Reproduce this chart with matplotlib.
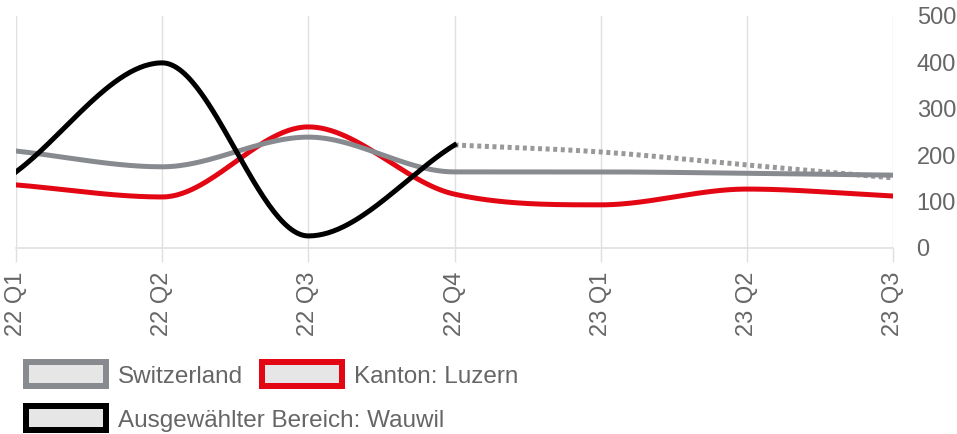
import numpy as np
import matplotlib
matplotlib.use("Agg")
import matplotlib.pyplot as plt
from matplotlib.patches import Rectangle

categories = ["22 Q1", "22 Q2", "22 Q3", "22 Q4", "23 Q1", "23 Q2", "23 Q3"]
switzerland = [209, 175, 239, 164, 164, 161, 157]
luzern = [136, 110, 261, 116, 93, 127, 112]
wauwil = [164, 399, 26, 222]
wauwil_forecast = [222, 207, 179, 151]  # from 22 Q4 onward
y_ticks = [0, 100, 200, 300, 400, 500]

plt.rcParams['font.family'] = ['Liberation Sans', 'DejaVu Sans']
TXT = "#666666"


def monotone(xs, ys, n=60):
    xs = np.asarray(xs, float)
    ys = np.asarray(ys, float)
    k = len(xs)
    d = np.diff(ys) / np.diff(xs)
    m = np.zeros(k)
    m[0] = d[0]
    m[-1] = d[-1]
    for i in range(1, k - 1):
        if d[i - 1] * d[i] <= 0:
            m[i] = 0
        else:
            m[i] = (d[i - 1] + d[i]) / 2
    for i in range(k - 1):
        if d[i] == 0:
            m[i] = m[i + 1] = 0
            continue
        a = m[i] / d[i]
        b = m[i + 1] / d[i]
        s = a * a + b * b
        if s > 9:
            t = 3 / np.sqrt(s)
            m[i] = t * a * d[i]
            m[i + 1] = t * b * d[i]
    X, Y = [], []
    for i in range(k - 1):
        h = xs[i + 1] - xs[i]
        t = np.linspace(0, 1, n)
        h00 = 2 * t**3 - 3 * t**2 + 1
        h10 = t**3 - 2 * t**2 + t
        h01 = -2 * t**3 + 3 * t**2
        h11 = t**3 - t**2
        X.append(xs[i] + t * h)
        Y.append(h00 * ys[i] + h10 * h * m[i] + h01 * ys[i + 1] + h11 * h * m[i + 1])
    return np.concatenate(X), np.concatenate(Y)


fig = plt.figure(figsize=(9.57, 4.34), dpi=100)
ax = fig.add_axes([16 / 957, 1 - 248 / 434, (893 - 16) / 957, (248 - 16) / 434])

x_all = np.arange(len(categories))
lw = 3.6

xf, yf = monotone(x_all[3:], wauwil_forecast)
ax.plot(xf, yf, color="#999999", lw=3.6, dashes=(0.8, 0.72), solid_capstyle="butt",
        dash_capstyle="butt", zorder=2)
xs, ys = monotone(x_all, switzerland)
ax.plot(xs, ys, color="#878a8f", lw=lw, zorder=4)
xl, yl = monotone(x_all, luzern)
ax.plot(xl, yl, color="#e30613", lw=lw, zorder=3)
xw, yw = monotone(x_all[:len(wauwil)], wauwil)
ax.plot(xw, yw, color="#000000", lw=lw, zorder=5)

ax.set_xlim(0, len(categories) - 1)
ax.set_ylim(0, 500)
ax.set_xticks(x_all)
ax.set_xticklabels(categories, rotation=90, fontsize=17, color=TXT)
ax.set_yticks(y_ticks)
ax.set_yticklabels([str(v) for v in y_ticks], fontsize=17, color=TXT)
ax.yaxis.tick_right()
ax.tick_params(axis="y", length=0, pad=17)
ax.tick_params(axis="x", length=10, width=1, color="#e0e0e0", pad=7)
for lab in ax.get_yticklabels():
    lab.set_horizontalalignment("left")
ax.grid(axis="x", color="#e0e0e0", lw=1)
for s in ["top", "right", "left"]:
    ax.spines[s].set_visible(False)
ax.spines["bottom"].set_color("#e0e0e0")
ax.spines["bottom"].set_linewidth(1.2)
ax.set_axisbelow(True)

legend_items = [
    ("Switzerland", "#878a8f", 23, 359),
    ("Kanton: Luzern", "#e30613", 259, 359),
    ("Ausgewählter Bereich: Wauwil", "#000000", 23, 403),
]
BW, BH, BORDER = 86, 29.5, 6
for label, col, px, py in legend_items:
    inset = BORDER / 2
    w, h = (BW - 2 * inset) / 957, (BH - 2 * inset) / 434
    r = Rectangle(((px + inset) / 957, 1 - (py + BH - inset) / 434), w, h,
                  transform=fig.transFigure,
                  facecolor="#e6e6e6", edgecolor=col, lw=BORDER * 0.72, joinstyle="miter")
    fig.add_artist(r)
    fig.text((px + BW + 9) / 957, 1 - (py + BH / 2 + 0.5) / 434, label, fontsize=17.5,
             color=TXT, va="center_baseline", ha="left")

fig.savefig("out.png", dpi=100)
